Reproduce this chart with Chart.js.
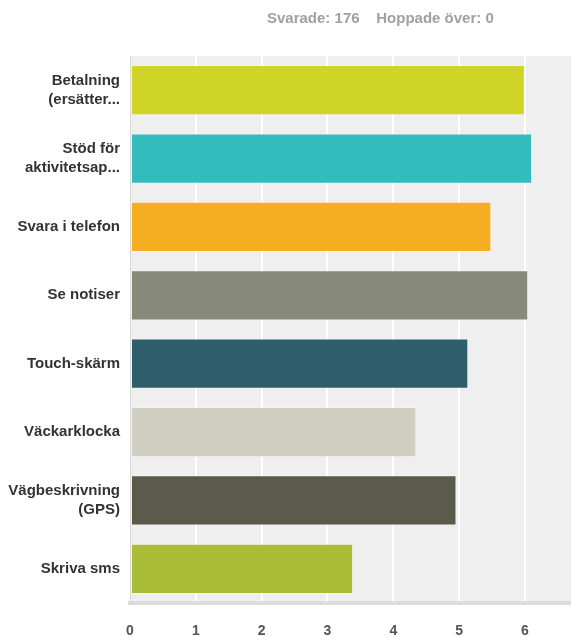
<!DOCTYPE html>
<html>
<head>
<meta charset="utf-8">
<script src="https://cdn.jsdelivr.net/npm/chart.js@4/dist/chart.umd.min.js"></script>
<style>
  html, body { margin: 0; padding: 0; background: #fff; }
  #wrap { position: relative; width: 571px; height: 637px; }
  #summary {
    position: absolute; top: 9px; left: 267px;
    font: bold 15px "Liberation Sans", Arial, sans-serif;
    color: #a0a0a0; white-space: pre;
  }
</style>
</head>
<body>
<div id="wrap">
  <canvas id="chart" width="571" height="637"></canvas>
  <div id="summary">Svarade: 176    Hoppade över: 0</div>
</div>
<script>
// answer options (long ones are cut and wrapped the way the survey shows them)
const categories = [
  ["Betalning", "(ersätter..."],
  ["Stöd för", "aktivitetsap..."],
  "Svara i telefon",
  "Se notiser",
  "Touch-skärm",
  "Väckarklocka",
  ["Vägbeskrivning", "(GPS)"],
  "Skriva sms"
];
// average score per option
const values = [6.00, 6.11, 5.49, 6.05, 5.14, 4.35, 4.96, 3.39];
const barColors = [
  "#d0d426", "#32bcbe", "#f5ae1f", "#878a78",
  "#2e5e6b", "#cfcec0", "#5c5a4a", "#a9bc37"
];
const xMax = 6.7;

// grey panel behind the bars
const plotBackground = {
  id: "plotBackground",
  beforeDraw(chart) {
    const { ctx, chartArea: a } = chart;
    ctx.save();
    ctx.fillStyle = "#efefef";
    ctx.fillRect(a.left, a.top, a.right - a.left, a.bottom - a.top);
    ctx.restore();
  }
};

const fontFamily = "'Liberation Sans', Arial, sans-serif";

new Chart(document.getElementById("chart"), {
  type: "bar",
  data: {
    labels: categories,
    datasets: [{
      data: values,
      backgroundColor: barColors,
      borderColor: "rgba(255,255,255,0.35)",
      borderWidth: 1,
      borderSkipped: false,
      barPercentage: 0.735,
      categoryPercentage: 1.0
    }]
  },
  options: {
    indexAxis: "y",
    responsive: false,
    animation: false,
    layout: { padding: { top: 56, right: 0, bottom: 0, left: 0 } },
    plugins: {
      legend: { display: false },
      tooltip: { enabled: false }
    },
    scales: {
      x: {
        min: 0,
        max: xMax,
        afterFit: (scale) => { scale.height = 34; },
        ticks: {
          stepSize: 1,
          includeBounds: false,
          padding: 20,
          color: "#555",
          font: { family: fontFamily, size: 14, weight: "bold" }
        },
        grid: { color: "#ffffff", lineWidth: 2, drawTicks: false },
        border: { display: true, color: "#dcdcdc", width: 4 }
      },
      y: {
        afterFit: (scale) => { scale.width = 130; },
        ticks: {
          padding: 10,
          color: "#333",
          font: { family: fontFamily, size: 15, weight: "bold", lineHeight: 1.27 }
        },
        grid: { display: false, drawTicks: false },
        border: { display: true, color: "#d8d8d8", width: 1 }
      }
    }
  },
  plugins: [plotBackground]
});
</script>
</body>
</html>
